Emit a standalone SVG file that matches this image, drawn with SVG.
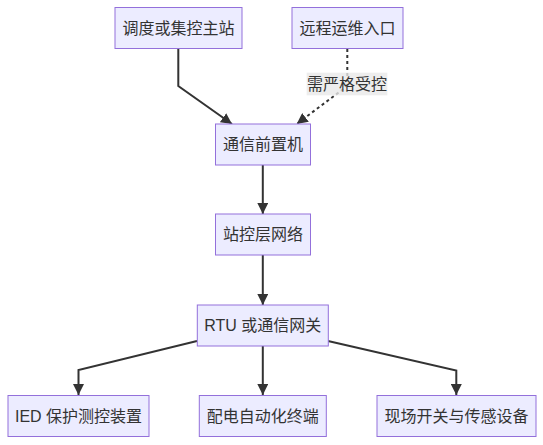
<svg xmlns="http://www.w3.org/2000/svg" width="543" height="445" viewBox="0 0 543 445">
<style>
.node rect{fill:#ECECFF;stroke:#9370DB;stroke-width:1px;}
.node text, .lbl text{font-family:"Liberation Sans","Noto Sans CJK SC",sans-serif;font-size:16px;fill:#333;text-anchor:middle;}
.edge{fill:none;stroke:#333;stroke-width:2px;marker-end:url(#arr);}
.dot{stroke-dasharray:3 3;}
</style>
<defs>
<marker id="arr" viewBox="0 0 10 10" refX="10" refY="5" markerUnits="userSpaceOnUse" markerWidth="11" markerHeight="11" orient="auto">
<path d="M0,0 L10,5 L0,10 z" fill="#333"/>
</marker>
</defs>
<rect width="543" height="445" fill="#fff"/>
<g id="connectors">
<path class="edge" d="M178.3,49 L178.3,86 L232,124"/>
<path class="edge dot" d="M347.3,49 L347.3,86 L296.7,124"/>
<path class="edge" d="M262.8,165 L262.8,214"/>
<path class="edge" d="M262.8,255 L262.8,305"/>
<path class="edge" d="M197,341 L78.5,370 L78.5,395"/>
<path class="edge" d="M262.8,346 L262.8,395"/>
<path class="edge" d="M328,341 L456.3,370.5 L456.3,395"/>
<g class="lbl" id="label-strict">
<rect x="306.7" y="72.7" width="80.6" height="22.6" fill="#e8e8e8" opacity="0.8"/>
<text x="347" y="89.5">需严格受控</text>
</g>
</g>
<g class="node" id="dispatch"><rect x="115" y="7.5" width="127" height="41"/><text x="178.5" y="33.5">调度或集控主站</text></g>
<g class="node" id="remote"><rect x="292" y="7.5" width="111" height="41"/><text x="347.5" y="33.5">远程运维入口</text></g>
<g class="node" id="frontend"><rect x="215.5" y="124" width="95" height="41"/><text x="263" y="150">通信前置机</text></g>
<g class="node" id="stationnet"><rect x="215.5" y="214" width="95" height="41"/><text x="263" y="240">站控层网络</text></g>
<g class="node" id="rtu"><rect x="197.3" y="305" width="131" height="41"/><text x="262.8" y="331">RTU 或通信网关</text></g>
<g class="node" id="ied"><rect x="8" y="395.5" width="141" height="41"/><text x="78.5" y="421.5">IED 保护测控装置</text></g>
<g class="node" id="dtu"><rect x="199.3" y="395.5" width="127" height="41"/><text x="262.8" y="421.5">配电自动化终端</text></g>
<g class="node" id="field"><rect x="377" y="395.5" width="159" height="41"/><text x="456.5" y="421.5">现场开关与传感设备</text></g>
</svg>
